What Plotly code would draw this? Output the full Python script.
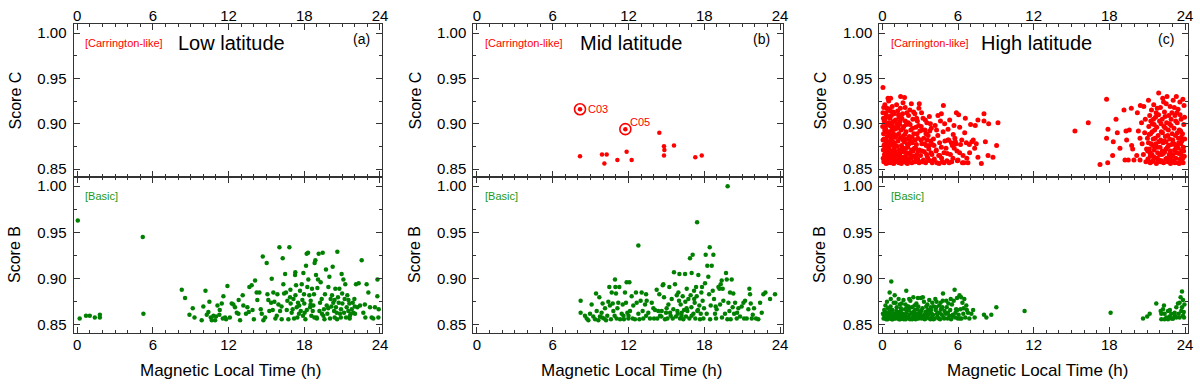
import plotly.graph_objects as go

# ---------------- DATA ----------------
x_ticks = [0, 6, 12, 18, 24]
y_ticks = [0.85, 0.90, 0.95, 1.00]
y_tick_labels = ["0.85", "0.90", "0.95", "1.00"]

panel_titles = ["Low latitude", "Mid latitude", "High latitude"]
panel_letters = ["(a)", "(b)", "(c)"]

# Low latitude, Score B (Basic)
low_B = [
    (0.05, 0.963), (0.2, 0.857), (0.7, 0.860), (1.0, 0.860), (1.4, 0.858), (1.8, 0.861), (1.8, 0.858),
    (5.2, 0.945), (5.25, 0.862),
    (8.29, 0.888), (8.55, 0.879), (8.90, 0.861), (9.16, 0.868), (9.87, 0.855), (10.0, 0.870), (10.17, 0.887),
    (10.27, 0.861), (10.48, 0.875), (10.59, 0.858), (10.67, 0.855), (10.80, 0.860), (10.93, 0.855), (11.01, 0.859),
    (11.12, 0.871), (11.27, 0.861), (11.46, 0.873), (11.54, 0.857), (11.59, 0.881), (11.72, 0.858), (11.80, 0.856),
    (11.91, 0.892), (12.25, 0.873), (12.38, 0.872), (12.51, 0.869), (12.65, 0.863), (12.78, 0.862), (12.91, 0.855),
    (13.12, 0.882), (13.17, 0.871), (13.38, 0.862), (13.49, 0.869), (13.60, 0.864), (13.65, 0.891), (13.83, 0.893),
    (14.10, 0.898), (14.23, 0.885), (14.28, 0.877), (14.44, 0.885), (14.55, 0.867), (14.63, 0.862), (14.71, 0.924),
    (14.76, 0.855), (15.02, 0.917), (15.08, 0.883), (15.15, 0.877), (15.23, 0.865), (15.37, 0.874), (15.42, 0.900),
    (15.55, 0.885), (15.63, 0.875), (15.71, 0.857), (15.82, 0.860), (15.87, 0.883), (15.95, 0.872), (16.03, 0.934),
    (16.08, 0.865), (16.21, 0.856), (16.29, 0.922), (16.34, 0.894), (16.40, 0.884), (16.48, 0.905), (16.55, 0.885),
    (16.61, 0.866), (16.66, 0.876), (16.74, 0.856), (16.82, 0.934), (16.87, 0.880), (16.92, 0.873), (17.0, 0.863),
    (17.08, 0.867), (17.14, 0.878), (17.19, 0.857), (17.27, 0.904), (17.29, 0.907), (17.35, 0.893), (17.40, 0.869),
    (17.45, 0.858), (17.50, 0.874), (17.58, 0.862), (17.66, 0.887), (17.72, 0.865), (17.80, 0.894), (17.85, 0.877),
    (17.93, 0.906), (17.98, 0.883), (18.03, 0.863), (18.09, 0.856), (18.14, 0.914), (18.19, 0.927), (18.24, 0.891),
    (18.30, 0.928), (18.32, 0.899), (18.40, 0.882), (18.46, 0.869), (18.51, 0.876), (18.56, 0.860), (18.61, 0.889),
    (18.67, 0.865), (18.72, 0.871), (18.77, 0.883), (18.82, 0.917), (18.88, 0.920), (18.93, 0.904), (18.98, 0.858),
    (19.04, 0.890), (19.09, 0.899), (19.14, 0.927), (19.20, 0.865), (19.25, 0.874), (19.30, 0.896), (19.38, 0.878),
    (19.46, 0.928), (19.51, 0.860), (19.56, 0.867), (19.64, 0.883), (19.72, 0.910), (19.78, 0.871), (19.83, 0.862),
    (19.91, 0.891), (19.99, 0.902), (20.04, 0.857), (20.09, 0.878), (20.15, 0.870), (20.20, 0.882), (20.25, 0.913),
    (20.30, 0.874), (20.36, 0.865), (20.41, 0.858), (20.46, 0.889), (20.51, 0.869), (20.57, 0.863), (20.62, 0.929),
    (20.67, 0.880), (20.73, 0.874), (20.78, 0.889), (20.83, 0.862), (20.91, 0.867), (20.96, 0.905), (21.02, 0.873),
    (21.10, 0.899), (21.15, 0.863), (21.20, 0.878), (21.25, 0.894), (21.31, 0.858), (21.36, 0.869), (21.41, 0.882),
    (21.49, 0.865), (21.57, 0.873), (21.62, 0.860), (21.68, 0.862), (21.76, 0.867), (21.84, 0.874), (21.89, 0.863),
    (21.97, 0.878), (22.02, 0.862), (22.10, 0.894), (22.21, 0.869), (22.31, 0.895), (22.42, 0.871), (22.55, 0.920),
    (22.68, 0.863), (22.84, 0.858), (22.94, 0.894), (23.08, 0.885), (23.21, 0.869), (23.34, 0.858), (23.47, 0.857),
    (23.60, 0.869), (23.79, 0.881), (23.87, 0.858), (23.8, 0.899), (23.9, 0.867),
    (17.6, 0.871), (18.2, 0.866), (18.8, 0.858), (19.4, 0.862), (19.9, 0.868), (20.4, 0.877), (20.9, 0.858),
    (21.5, 0.877), (22.0, 0.870), (21.0, 0.884), (19.6, 0.856), (18.5, 0.872), (17.9, 0.860), (16.9, 0.888),
    (16.2, 0.870), (15.5, 0.866), (14.9, 0.858), (13.9, 0.866), (12.1, 0.858), (11.3, 0.866), (10.4, 0.864),
    (9.3, 0.858), (12.8, 0.877), (14.0, 0.856), (21.6, 0.857), (22.8, 0.872), (20.6, 0.856), (19.0, 0.857),
    (18.0, 0.873), (17.3, 0.882),
]

# Mid latitude, Score C (Carrington-like)
mid_C = [
    (8.16, 0.916), (11.75, 0.894), (8.16, 0.864), (9.90, 0.866), (10.27, 0.866), (10.09, 0.856), (11.12, 0.860),
    (11.85, 0.869), (12.25, 0.860), (14.44, 0.890), (14.81, 0.875), (14.84, 0.871), (14.81, 0.865), (15.60, 0.876),
    (17.29, 0.863), (17.80, 0.865),
]
mid_C_events = ["C03", "C05"]
mid_C_event_x = [8.16, 11.75]
mid_C_event_y = [0.916, 0.894]

# Mid latitude, Score B (Basic)
mid_B = [
    (19.85, 1.000), (17.43, 0.961), (12.78, 0.936),
    (8.21, 0.876), (8.21, 0.863), (8.55, 0.860), (8.69, 0.857), (8.82, 0.855), (8.95, 0.862), (9.08, 0.872),
    (9.21, 0.859), (9.35, 0.856), (9.43, 0.884), (9.48, 0.865), (9.61, 0.855), (9.69, 0.880), (9.74, 0.859),
    (9.87, 0.863), (9.95, 0.873), (10.06, 0.857), (10.14, 0.868), (10.22, 0.855), (10.32, 0.860), (10.40, 0.875),
    (10.48, 0.891), (10.53, 0.871), (10.61, 0.856), (10.67, 0.885), (10.75, 0.873), (10.80, 0.865), (10.93, 0.899),
    (10.96, 0.891), (11.01, 0.884), (11.06, 0.857), (11.12, 0.868), (11.19, 0.874), (11.27, 0.891), (11.33, 0.856),
    (11.46, 0.862), (11.54, 0.872), (11.64, 0.856), (11.72, 0.885), (11.80, 0.874), (11.85, 0.896), (11.91, 0.863),
    (11.99, 0.857), (12.07, 0.896), (12.12, 0.865), (12.25, 0.881), (12.33, 0.857), (12.38, 0.871), (12.51, 0.856),
    (12.59, 0.885), (12.65, 0.874), (12.78, 0.862), (12.86, 0.856), (12.96, 0.876), (13.04, 0.885), (13.12, 0.865),
    (13.17, 0.857), (13.31, 0.872), (13.39, 0.883), (13.44, 0.876), (13.57, 0.863), (13.70, 0.857), (13.84, 0.874),
    (13.97, 0.868), (14.02, 0.857), (14.10, 0.866), (14.23, 0.888), (14.28, 0.857), (14.36, 0.865), (14.44, 0.883),
    (14.50, 0.860), (14.63, 0.865), (14.71, 0.893), (14.76, 0.894), (14.81, 0.880), (14.89, 0.856), (14.97, 0.863),
    (15.02, 0.868), (15.08, 0.857), (15.16, 0.872), (15.23, 0.891), (15.29, 0.863), (15.34, 0.860), (15.42, 0.878),
    (15.50, 0.857), (15.55, 0.867), (15.60, 0.907), (15.68, 0.894), (15.76, 0.859), (15.82, 0.882), (15.87, 0.865),
    (15.95, 0.885), (16.03, 0.905), (16.08, 0.857), (16.13, 0.872), (16.21, 0.863), (16.29, 0.881), (16.34, 0.856),
    (16.40, 0.866), (16.48, 0.905), (16.50, 0.875), (16.55, 0.859), (16.61, 0.889), (16.66, 0.865), (16.74, 0.878),
    (16.82, 0.857), (16.87, 0.922), (16.92, 0.882), (16.98, 0.869), (17.0, 0.906), (17.08, 0.926), (17.14, 0.862),
    (17.19, 0.887), (17.24, 0.874), (17.29, 0.857), (17.35, 0.891), (17.40, 0.881), (17.45, 0.865), (17.53, 0.904),
    (17.61, 0.871), (17.66, 0.856), (17.72, 0.862), (17.77, 0.885), (17.82, 0.891), (17.87, 0.876), (17.93, 0.857),
    (17.98, 0.868), (18.06, 0.895), (18.11, 0.926), (18.19, 0.862), (18.24, 0.914), (18.32, 0.902), (18.38, 0.883),
    (18.43, 0.934), (18.46, 0.856), (18.51, 0.871), (18.59, 0.914), (18.67, 0.887), (18.72, 0.926), (18.77, 0.878),
    (18.85, 0.862), (18.93, 0.857), (18.98, 0.867), (19.12, 0.891), (19.20, 0.889), (19.25, 0.872), (19.30, 0.894),
    (19.38, 0.898), (19.46, 0.889), (19.51, 0.876), (19.64, 0.862), (19.72, 0.906), (19.78, 0.899), (19.83, 0.856),
    (19.91, 0.874), (19.99, 0.865), (20.04, 0.885), (20.09, 0.856), (20.17, 0.899), (20.25, 0.869), (20.30, 0.884),
    (20.36, 0.862), (20.44, 0.874), (20.57, 0.857), (20.70, 0.868), (20.83, 0.859), (20.96, 0.870), (21.10, 0.874),
    (21.15, 0.857), (21.23, 0.876), (21.36, 0.857), (21.49, 0.867), (21.57, 0.889), (21.62, 0.883), (21.68, 0.873),
    (21.76, 0.857), (21.84, 0.861), (21.94, 0.868), (22.10, 0.857), (22.28, 0.856), (22.42, 0.874), (22.55, 0.863),
    (22.68, 0.883), (22.84, 0.885), (23.21, 0.878), (23.60, 0.883),
    (16.2, 0.860), (17.0, 0.860), (17.5, 0.866), (15.9, 0.862), (14.6, 0.859), (13.4, 0.860), (10.9, 0.860),
    (11.6, 0.860), (9.9, 0.858), (12.0, 0.860), (16.6, 0.868), (18.9, 0.870), (20.6, 0.863), (19.4, 0.858),
    (17.2, 0.878), (16.0, 0.876),
]

# High latitude, Score C (Carrington-like)
high_C = [
    (0.05, 0.940),
    (0.05, 0.912), (0.08, 0.871), (0.1, 0.889), (0.12, 0.858), (0.15, 0.903), (0.18, 0.877), (0.2, 0.921),
    (0.22, 0.864), (0.25, 0.895), (0.28, 0.882), (0.3, 0.856), (0.32, 0.909), (0.35, 0.869), (0.38, 0.917),
    (0.4, 0.886), (0.42, 0.861), (0.45, 0.899), (0.48, 0.874), (0.5, 0.925), (0.52, 0.858), (0.55, 0.891),
    (0.58, 0.866), (0.6, 0.906), (0.62, 0.879), (0.65, 0.914), (0.68, 0.857), (0.7, 0.884), (0.72, 0.897),
    (0.75, 0.869), (0.78, 0.919), (0.8, 0.862), (0.82, 0.902), (0.85, 0.876), (0.88, 0.889), (0.9, 0.856),
    (0.92, 0.911), (0.95, 0.872), (0.98, 0.894),
    (0.03, 0.897), (0.07, 0.862), (0.11, 0.918), (0.14, 0.883), (0.17, 0.866), (0.21, 0.905), (0.24, 0.874),
    (0.27, 0.859), (0.31, 0.892), (0.34, 0.881), (0.37, 0.863), (0.41, 0.908), (0.44, 0.878), (0.47, 0.857),
    (0.51, 0.901), (0.54, 0.872), (0.57, 0.916), (0.61, 0.861), (0.64, 0.887), (0.67, 0.870), (0.71, 0.909),
    (0.74, 0.858), (0.77, 0.893), (0.81, 0.880), (0.84, 0.866), (0.87, 0.913), (0.91, 0.885), (0.94, 0.860),
    (0.97, 0.903),
    (0.06, 0.882), (0.13, 0.876), (0.19, 0.893), (0.26, 0.867), (0.33, 0.900), (0.39, 0.873), (0.46, 0.890),
    (0.53, 0.880), (0.59, 0.898), (0.66, 0.864), (0.73, 0.877), (0.79, 0.887), (0.86, 0.857), (0.93, 0.879),
    (0.99, 0.866), (0.16, 0.860), (0.36, 0.858), (0.56, 0.862), (0.76, 0.860), (0.96, 0.858), (0.09, 0.906),
    (0.29, 0.912), (0.49, 0.915), (0.69, 0.900), (0.89, 0.897), (0.45, 0.928), (0.66, 0.928),
    (1.02, 0.869), (1.05, 0.904), (1.08, 0.858), (1.1, 0.887), (1.13, 0.921), (1.16, 0.875), (1.19, 0.862),
    (1.22, 0.896), (1.25, 0.881), (1.28, 0.910), (1.31, 0.857), (1.34, 0.871), (1.37, 0.899), (1.4, 0.884),
    (1.43, 0.917), (1.46, 0.863), (1.49, 0.893), (1.52, 0.876), (1.55, 0.906), (1.58, 0.858), (1.61, 0.886),
    (1.64, 0.923), (1.67, 0.869), (1.7, 0.897), (1.73, 0.880), (1.76, 0.929), (1.79, 0.861), (1.82, 0.903),
    (1.85, 0.873), (1.88, 0.891), (1.91, 0.857), (1.94, 0.912), (1.97, 0.878),
    (1.03, 0.885), (1.07, 0.876), (1.12, 0.862), (1.18, 0.900), (1.24, 0.866), (1.3, 0.889), (1.36, 0.860),
    (1.42, 0.903), (1.48, 0.870), (1.54, 0.861), (1.6, 0.911), (1.66, 0.882), (1.72, 0.859), (1.78, 0.888),
    (1.84, 0.864), (1.9, 0.899), (1.96, 0.868), (1.45, 0.930), (1.21, 0.914), (1.57, 0.874), (1.81, 0.918),
    (1.39, 0.867), (1.15, 0.895), (1.69, 0.863), (1.93, 0.883), (1.27, 0.858), (1.51, 0.856), (1.75, 0.872),
    (1.99, 0.856), (1.33, 0.907), (1.63, 0.895),
    (2.02, 0.874), (2.06, 0.901), (2.1, 0.861), (2.14, 0.886), (2.18, 0.915), (2.22, 0.868), (2.26, 0.893),
    (2.3, 0.922), (2.34, 0.857), (2.38, 0.879), (2.42, 0.905), (2.46, 0.864), (2.5, 0.889), (2.54, 0.873),
    (2.58, 0.911), (2.62, 0.858), (2.66, 0.896), (2.7, 0.877), (2.74, 0.866), (2.78, 0.903), (2.82, 0.884),
    (2.86, 0.859), (2.9, 0.917), (2.94, 0.871), (2.98, 0.892),
    (2.04, 0.858), (2.12, 0.878), (2.2, 0.899), (2.28, 0.862), (2.36, 0.885), (2.44, 0.870), (2.52, 0.858),
    (2.6, 0.882), (2.68, 0.862), (2.76, 0.889), (2.84, 0.870), (2.92, 0.857), (2.08, 0.909), (2.24, 0.881),
    (2.4, 0.895), (2.56, 0.864), (2.72, 0.906), (2.88, 0.898), (2.16, 0.866), (2.48, 0.913), (2.8, 0.861),
    (2.32, 0.871), (2.64, 0.873), (2.93, 0.922),
    (3.03, 0.865), (3.08, 0.897), (3.13, 0.878), (3.18, 0.858), (3.23, 0.906), (3.28, 0.884), (3.33, 0.869),
    (3.38, 0.893), (3.43, 0.857), (3.48, 0.876), (3.53, 0.901), (3.58, 0.863), (3.63, 0.887), (3.68, 0.872),
    (3.73, 0.908), (3.78, 0.859), (3.83, 0.881), (3.88, 0.895), (3.93, 0.866), (3.98, 0.877),
    (3.06, 0.882), (3.16, 0.870), (3.26, 0.860), (3.36, 0.878), (3.46, 0.889), (3.56, 0.882), (3.66, 0.860),
    (3.76, 0.892), (3.86, 0.868), (3.96, 0.857), (3.11, 0.912), (3.41, 0.904), (3.71, 0.876), (3.21, 0.893),
    (3.51, 0.866), (3.81, 0.900),
    (4.05, 0.883), (4.12, 0.861), (4.19, 0.898), (4.26, 0.870), (4.33, 0.857), (4.4, 0.887), (4.47, 0.865),
    (4.54, 0.879), (4.61, 0.903), (4.68, 0.874), (4.75, 0.858), (4.82, 0.891), (4.89, 0.868), (4.96, 0.881),
    (4.1, 0.876), (4.3, 0.893), (4.5, 0.856), (4.7, 0.862), (4.9, 0.857), (4.41, 0.909), (4.84, 0.920),
    (4.68, 0.911), (4.94, 0.900), (4.55, 0.865), (4.28, 0.871), (4.1, 0.860),
    (5.05, 0.873), (5.12, 0.859), (5.2, 0.882), (5.26, 0.882), (5.34, 0.904), (5.4, 0.866), (5.47, 0.879),
    (5.55, 0.876), (5.6, 0.862), (5.68, 0.898), (5.75, 0.884), (5.79, 0.880), (5.87, 0.912), (5.92, 0.870),
    (5.21, 0.894), (5.3, 0.857), (5.5, 0.858), (5.7, 0.873), (5.85, 0.878), (5.95, 0.859), (5.15, 0.867),
    (5.62, 0.888),
    (6.0, 0.860), (6.05, 0.910), (6.13, 0.896), (6.13, 0.868), (6.2, 0.877), (6.3, 0.882), (6.4, 0.865),
    (6.47, 0.857), (6.53, 0.890), (6.58, 0.906), (6.66, 0.879), (6.79, 0.857), (6.92, 0.868), (7.0, 0.899),
    (7.1, 0.880), (7.21, 0.882), (7.32, 0.873), (7.37, 0.898), (7.58, 0.904), (7.58, 0.863), (7.85, 0.856),
    (8.06, 0.911), (8.06, 0.903), (8.17, 0.880), (8.38, 0.865), (8.43, 0.900), (8.77, 0.863), (9.06, 0.876),
    (9.17, 0.901), (6.35, 0.857), (6.9, 0.877), (7.45, 0.878), (6.7, 0.862),
    (15.27, 0.892), (16.33, 0.901), (17.78, 0.927), (17.26, 0.855), (17.87, 0.857), (18.26, 0.865),
    (17.78, 0.884), (17.89, 0.894), (18.31, 0.880), (18.63, 0.890), (18.53, 0.905), (18.84, 0.873),
    (19.16, 0.915), (19.74, 0.917), (19.32, 0.892), (19.58, 0.893), (19.37, 0.882), (19.24, 0.860),
    (19.50, 0.860), (19.77, 0.876), (19.85, 0.872), (20.22, 0.912), (20.30, 0.892), (20.17, 0.865),
    (19.95, 0.860), (20.43, 0.884), (20.43, 0.860),
    (20.46, 0.920), (20.73, 0.919), (20.6, 0.878), (20.7, 0.866), (20.8, 0.890), (20.9, 0.858), (20.55, 0.901),
    (20.85, 0.905), (20.95, 0.872),
    (21.02, 0.884), (21.06, 0.861), (21.1, 0.926), (21.13, 0.897), (21.17, 0.872), (21.2, 0.909), (21.24, 0.857),
    (21.27, 0.889), (21.31, 0.878), (21.34, 0.915), (21.38, 0.866), (21.41, 0.900), (21.45, 0.859), (21.48, 0.883),
    (21.52, 0.921), (21.55, 0.871), (21.59, 0.893), (21.62, 0.862), (21.66, 0.907), (21.69, 0.878), (21.73, 0.856),
    (21.76, 0.896), (21.8, 0.917), (21.83, 0.868), (21.87, 0.887), (21.91, 0.934), (21.94, 0.860), (21.98, 0.903),
    (21.04, 0.870), (21.15, 0.888), (21.22, 0.868), (21.29, 0.903), (21.36, 0.858), (21.43, 0.876), (21.5, 0.905),
    (21.57, 0.863), (21.64, 0.884), (21.71, 0.912), (21.78, 0.874), (21.85, 0.858), (21.92, 0.880), (21.99, 0.866),
    (21.1, 0.879), (21.4, 0.891), (21.6, 0.875), (21.8, 0.862), (21.25, 0.864), (21.55, 0.899), (21.9, 0.910),
    (22.02, 0.874), (22.05, 0.918), (22.09, 0.858), (22.12, 0.891), (22.16, 0.866), (22.19, 0.905), (22.23, 0.928),
    (22.26, 0.879), (22.3, 0.857), (22.33, 0.897), (22.37, 0.913), (22.4, 0.869), (22.44, 0.886), (22.47, 0.861),
    (22.51, 0.922), (22.54, 0.901), (22.57, 0.930), (22.61, 0.874), (22.64, 0.858), (22.68, 0.893), (22.71, 0.909),
    (22.75, 0.866), (22.78, 0.883), (22.82, 0.919), (22.85, 0.856), (22.89, 0.898), (22.92, 0.877), (22.96, 0.912),
    (22.99, 0.864),
    (22.07, 0.882), (22.14, 0.859), (22.21, 0.890), (22.28, 0.867), (22.35, 0.881), (22.42, 0.908), (22.49, 0.872),
    (22.56, 0.862), (22.63, 0.887), (22.7, 0.876), (22.77, 0.900), (22.84, 0.870), (22.91, 0.859), (22.98, 0.889),
    (22.1, 0.900), (22.3, 0.924), (22.5, 0.880), (22.7, 0.858), (22.9, 0.905), (22.45, 0.895), (22.8, 0.862),
    (22.2, 0.870),
    (23.03, 0.882), (23.06, 0.926), (23.1, 0.859), (23.13, 0.895), (23.17, 0.871), (23.2, 0.909), (23.24, 0.887),
    (23.27, 0.862), (23.31, 0.930), (23.34, 0.876), (23.38, 0.901), (23.41, 0.857), (23.45, 0.916), (23.48, 0.884),
    (23.52, 0.867), (23.55, 0.893), (23.59, 0.924), (23.62, 0.861), (23.66, 0.878), (23.69, 0.905), (23.73, 0.870),
    (23.76, 0.858), (23.8, 0.889), (23.83, 0.927), (23.87, 0.874), (23.9, 0.899), (23.94, 0.864), (23.97, 0.883),
    (23.05, 0.866), (23.12, 0.878), (23.19, 0.857), (23.26, 0.903), (23.33, 0.868), (23.4, 0.890), (23.47, 0.873),
    (23.54, 0.856), (23.61, 0.910), (23.68, 0.866), (23.75, 0.881), (23.82, 0.862), (23.89, 0.870), (23.96, 0.907),
    (23.15, 0.918), (23.35, 0.912), (23.5, 0.879), (23.65, 0.892), (23.85, 0.857), (23.92, 0.920), (23.7, 0.885),
    (23.28, 0.875),
]

# High latitude, Score B (Basic)
high_B = [
    (0.05, 0.862), (0.1, 0.857), (0.15, 0.866), (0.2, 0.859), (0.25, 0.871), (0.3, 0.856), (0.35, 0.863),
    (0.4, 0.860), (0.45, 0.868), (0.5, 0.857), (0.55, 0.864), (0.58, 0.885), (0.6, 0.858), (0.65, 0.870),
    (0.71, 0.897), (0.7, 0.861), (0.75, 0.856), (0.8, 0.866), (0.85, 0.859), (0.9, 0.874), (0.95, 0.857),
    (0.98, 0.882), (0.12, 0.861), (0.22, 0.864), (0.32, 0.858), (0.42, 0.856), (0.52, 0.861), (0.62, 0.863),
    (0.72, 0.866), (0.82, 0.856), (0.92, 0.862), (0.37, 0.875), (0.67, 0.878),
    (1.02, 0.861), (1.08, 0.857), (1.14, 0.869), (1.2, 0.859), (1.26, 0.864), (1.32, 0.856), (1.38, 0.872),
    (1.44, 0.860), (1.5, 0.866), (1.56, 0.857), (1.62, 0.862), (1.68, 0.877), (1.74, 0.858), (1.8, 0.867),
    (1.86, 0.856), (1.9, 0.887), (1.92, 0.863), (1.98, 0.870), (1.05, 0.874), (1.17, 0.862), (1.29, 0.878),
    (1.41, 0.856), (1.53, 0.873), (1.65, 0.860), (1.77, 0.861), (1.89, 0.859), (1.11, 0.865), (1.47, 0.868),
    (1.83, 0.872), (1.35, 0.863), (1.71, 0.856),
    (2.04, 0.858), (2.1, 0.866), (2.16, 0.861), (2.22, 0.876), (2.28, 0.857), (2.34, 0.869), (2.4, 0.862),
    (2.46, 0.880), (2.52, 0.859), (2.58, 0.866), (2.64, 0.856), (2.7, 0.873), (2.76, 0.861), (2.82, 0.879),
    (2.88, 0.857), (2.94, 0.864), (2.07, 0.870), (2.19, 0.856), (2.31, 0.863), (2.43, 0.858), (2.55, 0.871),
    (2.67, 0.862), (2.79, 0.867), (2.91, 0.859), (2.13, 0.878), (2.49, 0.864), (2.85, 0.870), (2.37, 0.856),
    (2.73, 0.857),
    (3.0, 0.862), (3.06, 0.879), (3.12, 0.857), (3.18, 0.868), (3.24, 0.860), (3.3, 0.875), (3.36, 0.856),
    (3.42, 0.864), (3.48, 0.870), (3.54, 0.858), (3.6, 0.866), (3.66, 0.861), (3.72, 0.877), (3.78, 0.857),
    (3.84, 0.869), (3.9, 0.862), (3.96, 0.874), (3.09, 0.865), (3.21, 0.880), (3.33, 0.861), (3.45, 0.857),
    (3.57, 0.872), (3.69, 0.865), (3.81, 0.856), (3.93, 0.858), (3.15, 0.859), (3.51, 0.862), (3.87, 0.866),
    (4.02, 0.861), (4.09, 0.870), (4.16, 0.857), (4.23, 0.866), (4.3, 0.875), (4.37, 0.859), (4.44, 0.863),
    (4.51, 0.871), (4.58, 0.856), (4.65, 0.867), (4.72, 0.861), (4.79, 0.876), (4.81, 0.884), (4.86, 0.858),
    (4.93, 0.865), (4.06, 0.856), (4.2, 0.878), (4.34, 0.862), (4.48, 0.857), (4.62, 0.874), (4.76, 0.869),
    (4.9, 0.857), (4.55, 0.863), (4.27, 0.869),
    (5.03, 0.862), (5.1, 0.869), (5.17, 0.857), (5.24, 0.873), (5.31, 0.860), (5.38, 0.866), (5.45, 0.856),
    (5.52, 0.872), (5.59, 0.861), (5.66, 0.876), (5.73, 0.888), (5.78, 0.858), (5.85, 0.867), (5.92, 0.879),
    (5.99, 0.857), (5.2, 0.863), (5.42, 0.878), (5.62, 0.859), (5.8, 0.863), (5.95, 0.866), (5.07, 0.876),
    (6.05, 0.861), (6.12, 0.882), (6.2, 0.867), (6.28, 0.857), (6.35, 0.874), (6.42, 0.862), (6.5, 0.878),
    (6.58, 0.858), (6.66, 0.871), (6.79, 0.863), (6.9, 0.857), (7.06, 0.862), (6.25, 0.880), (6.45, 0.868),
    (6.15, 0.857), (6.7, 0.866),
    (7.32, 0.858), (8.06, 0.861), (8.25, 0.858), (8.64, 0.861), (9.04, 0.869), (11.28, 0.865), (7.2, 0.866),
    (18.1, 0.863), (20.67, 0.857), (21.0, 0.859), (21.2, 0.862), (21.72, 0.873), (22.33, 0.871), (22.07, 0.865),
    (22.12, 0.856), (22.38, 0.862), (22.52, 0.858), (22.65, 0.865), (22.78, 0.859), (22.91, 0.862), (23.04, 0.857),
    (23.18, 0.863), (23.31, 0.869), (23.44, 0.873), (23.57, 0.874), (23.65, 0.880), (23.76, 0.886), (23.7, 0.865),
    (23.84, 0.860), (23.92, 0.858), (23.57, 0.858), (23.31, 0.858), (23.04, 0.857), (22.91, 0.857), (22.65, 0.856),
    (22.38, 0.856), (22.12, 0.862), (23.76, 0.869), (23.84, 0.877), (23.2, 0.860), (22.8, 0.866), (23.5, 0.862),
    (23.9, 0.864), (22.25, 0.867), (23.95, 0.872),
]

# ---------------- STYLE / LAYOUT ----------------
RED = "#ff0000"
GREEN = "#008000"
FONT = "Liberation Sans, Arial, sans-serif"
AXC = "#333333"

W, H = 1200, 387
col_px = [(73.5, 382.0), (473.3, 782.7), (879.3, 1188.3)]
x_ranges = [[-0.29, 24.16], [-0.29, 24.21], [-0.24, 24.26]]
top_px = (24, 177)
bot_px = (177, 333)
y_range = [0.8412, 1.0100]

fig = go.Figure()

def add_points(pts, color, ax_idx, size=4.5):
    xs = [p[0] for p in pts]
    ys = [p[1] for p in pts]
    fig.add_trace(go.Scatter(
        x=xs, y=ys, mode="markers",
        marker=dict(color=color, size=size, line=dict(width=0)),
        xaxis=f"x{ax_idx}", yaxis=f"y{ax_idx}", showlegend=False, hoverinfo="skip"))

add_points(low_B, GREEN, 2)
add_points(mid_C, RED, 3)
fig.add_trace(go.Scatter(
    x=mid_C_event_x, y=mid_C_event_y, mode="markers",
    marker=dict(symbol="circle-open", color=RED, size=11, line=dict(width=1.6, color=RED)),
    xaxis="x3", yaxis="y3", showlegend=False, hoverinfo="skip"))
add_points(mid_B, GREEN, 4)
add_points(high_C, RED, 5, size=5)
add_points(high_B, GREEN, 6)

layout = dict(
    width=W, height=H, margin=dict(l=0, r=0, t=0, b=0, autoexpand=False),
    paper_bgcolor="white", plot_bgcolor="white",
    font=dict(family=FONT, color="black"),
    showlegend=False,
)

def xaxis_def(col, top):
    x0, x1 = col_px[col]
    return dict(
        domain=[x0 / W, x1 / W], range=x_ranges[col], automargin=False,
        tickvals=x_ticks, ticktext=[str(v) for v in x_ticks],
        side="top" if top else "bottom",
        ticks="inside", ticklen=6, tickwidth=1, tickcolor=AXC,
        minor=dict(dtick=1, tick0=0, ticks="inside", ticklen=3, tickcolor=AXC, tickwidth=1),
        showline=True, linecolor=AXC, linewidth=1, mirror="ticks",
        showgrid=False, zeroline=False,
        tickfont=dict(size=15, family=FONT, color="black"),
        ticklabelstandoff=-4 if top else -2,
    )

def yaxis_def(row_top, anchor):
    p0, p1 = top_px if row_top else bot_px
    return dict(
        domain=[1 - p1 / H, 1 - p0 / H], range=y_range, anchor=anchor, automargin=False,
        tickvals=y_ticks, ticktext=y_tick_labels,
        ticks="inside", ticklen=6, tickwidth=1, tickcolor=AXC,
        minor=dict(dtick=0.025, tick0=0.85, ticks="inside", ticklen=3, tickcolor=AXC, tickwidth=1),
        showline=True, linecolor=AXC, linewidth=1, mirror="ticks",
        showgrid=False, zeroline=False,
        tickfont=dict(size=15, family=FONT, color="black"),
        ticklabelstandoff=3,
    )

for col in range(3):
    top_idx = 2 * col + 1
    bot_idx = 2 * col + 2
    xt = xaxis_def(col, True)
    xt["anchor"] = f"y{top_idx}"
    xb = xaxis_def(col, False)
    xb["anchor"] = f"y{bot_idx}"
    layout["xaxis" if top_idx == 1 else f"xaxis{top_idx}"] = xt
    layout[f"xaxis{bot_idx}"] = xb
    layout["yaxis" if top_idx == 1 else f"yaxis{top_idx}"] = yaxis_def(True, f"x{top_idx}")
    layout[f"yaxis{bot_idx}"] = yaxis_def(False, f"x{bot_idx}")

annotations = []
score_c_x = [15, 415, 820]
xlabel_x = [230, 631, 1037.5]
for col in range(3):
    t = 2 * col + 1
    b = 2 * col + 2
    annotations += [
        dict(x=0.5, y=0.989, xref=f"x{t}", yref=f"y{t}", text="[Carrington-like]",
             showarrow=False, xanchor="left", yanchor="middle",
             font=dict(size=11, color=RED, family=FONT)),
        dict(x=12.2, y=0.9885, xref=f"x{t}", yref=f"y{t}", text=panel_titles[col],
             showarrow=False, xanchor="center", yanchor="middle",
             font=dict(size=20, color="black", family=FONT)),
        dict(x=22.5, y=0.993, xref=f"x{t}", yref=f"y{t}", text=panel_letters[col],
             showarrow=False, xanchor="center", yanchor="middle",
             font=dict(size=14, color="black", family=FONT)),
        dict(x=0.5, y=0.9895, xref=f"x{b}", yref=f"y{b}", text="[Basic]",
             showarrow=False, xanchor="left", yanchor="middle",
             font=dict(size=11, color="#1a9a1a", family=FONT)),
        dict(x=score_c_x[col] / W, y=1 - 100.5 / H, xref="paper", yref="paper", text="Score C",
             showarrow=False, textangle=-90, xanchor="center", yanchor="middle",
             font=dict(size=16, color="black", family=FONT)),
        dict(x=score_c_x[col] / W, y=1 - 255 / H, xref="paper", yref="paper", text="Score B",
             showarrow=False, textangle=-90, xanchor="center", yanchor="middle",
             font=dict(size=16, color="black", family=FONT)),
        dict(x=xlabel_x[col] / W, y=1 - 370 / H, xref="paper", yref="paper",
             text="Magnetic Local Time (h)", showarrow=False, xanchor="center", yanchor="middle",
             font=dict(size=17, color="black", family=FONT)),
    ]

annotations += [
    dict(x=9.62, y=0.916, xref="x3", yref="y3", text=mid_C_events[0], showarrow=False,
         xanchor="center", yanchor="middle", font=dict(size=11, color=RED, family=FONT)),
    dict(x=12.9, y=0.902, xref="x3", yref="y3", text=mid_C_events[1], showarrow=False,
         xanchor="center", yanchor="middle", font=dict(size=11, color=RED, family=FONT)),
]
layout["annotations"] = annotations

fig.update_layout(**layout)
# the page body has a default 8px margin; remove it so the 1200x387 figure fills the window exactly
fig.write_html("out.html",
               config={"displayModeBar": False, "staticPlot": True},
               post_script="document.body.style.margin='0px';document.body.style.overflow='hidden';")
